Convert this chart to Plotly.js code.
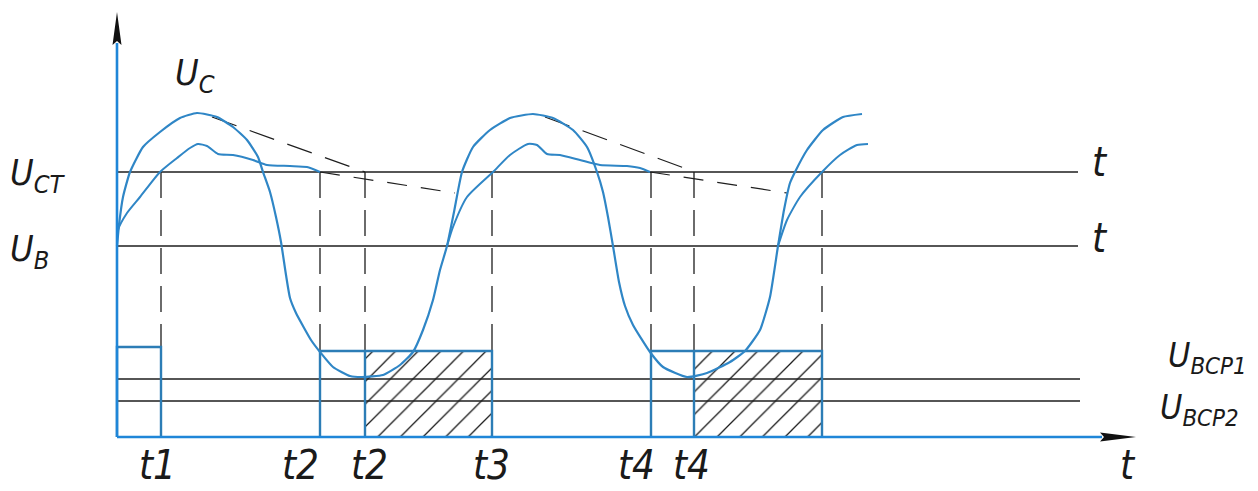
<!DOCTYPE html>
<html>
<head>
<meta charset="utf-8">
<script src="https://cdn.plot.ly/plotly-3.0.1.min.js"></script>
<style>html,body{margin:0;padding:0;background:#fff;}#chart{width:1258px;height:491px;}</style>
</head>
<body>
<div id="chart"></div>
<script>
// ---- data (drawing units: t along time axis, U along voltage axis) ----
const outerT = [117,119,123,130,143,160,180,197,217,233,247,258,263,270,276,281,286,290,296,303,311,320,333,350,362,383,400,413,423,433,440,447,454,462,473,490,510,533,553,573,587,597,603,608,613,619,625,633,650,663,687,707,730,745,760,770,778,784,790,795,807,823,843,862];
const outerU = [191,212,240,265,290,305,319,324,320,310,297,280,265,245,220,195,162,139,124,111,97,85,70,61,60,62,72,85,107,137,167,191,225,265,290,307,319,323,319,307,290,265,245,220,191,155,131,112,85,70,60,64,75,86,107,140,191,227,254,265,287,307,320,323];

const inner1T = [117,118,127,140,160,177,190,198,207,218,233,253,267,290,307,320];
const inner1U = [191,207,224,240,265,279,289,293,291,283,282,277,272,271,270,265];
const inner2T = [447,453,467,493,510,528,537,547,560,580,600,627,640,650];
const inner2U = [191,210,240,265,282,293,292,283,282,277,272,271,269,265];
const inner3T = [778,787,800,822,840,857,868];
const inner3U = [191,217,240,265,282,292,293];

const envUpperT = [212,365,null,545,695];
const envUpperU = [320,265,null,320,265];
const envLowerT = [320,455,null,650,787];
const envLowerU = [265,244,null,265,244];

const U_CT = 265, U_B = 191, U_BCP1 = 58, U_BCP2 = 36;
const tOrigin = 117, tLevelEnd = 1078, tBcpEnd = 1080, tAxisEnd = 1136, uAxisEnd = 425;

const pulseStart = [117, 320, 651];
const pulseSplit = [null, 365, 694];
const pulseEnd = [161, 492, 822];
const pulseHeight = [90, 86, 86];

const markT = [161, 320, 365, 492, 651, 694, 822];
const markBottom = [90, 86, 86, 86, 86, 86, 86];

const tickLabels = ['t1','t2','t2','t3','t4','t4'];
const tickLabelT = [157, 300, 369, 491, 636, 691];

// ---- styling ----
const BLUE_AX = '#1f86d8';
const BLUE_C = '#2f86c6';
const BLUE_P = '#2c7db6';
const BLACK = '#1e1e1e';
const FONT = 'DejaVu Sans Condensed, Liberation Sans Narrow, Roboto, sans-serif';

const traces = [];

// hatched part of pulses
const hx = [], hw = [], hy = [];
for (let i = 0; i < pulseStart.length; i++) {
  if (pulseSplit[i] !== null) {
    hx.push((pulseSplit[i] + pulseEnd[i]) / 2);
    hw.push(pulseEnd[i] - pulseSplit[i]);
    hy.push(pulseHeight[i]);
  }
}
traces.push({
  type: 'bar', x: hx, y: hy, width: hw, base: 0,
  marker: {color: 'rgba(0,0,0,0)', line: {width: 0},
           pattern: {shape: '/', size: 16, solidity: 0.08, fgcolor: '#1a1a1a', bgcolor: 'rgba(0,0,0,0)', fillmode: 'replace'}},
  hoverinfo: 'skip'
});

// level lines
traces.push({
  type: 'scatter', mode: 'lines',
  x: [tOrigin, tLevelEnd, null, tOrigin, tLevelEnd, null, tOrigin, tBcpEnd, null, tOrigin, tBcpEnd],
  y: [U_CT, U_CT, null, U_B, U_B, null, U_BCP1, U_BCP1, null, U_BCP2, U_BCP2],
  line: {color: BLACK, width: 1.3}, connectgaps: false
});

// vertical dashed marker lines
const vx = [], vy = [];
markT.forEach((t, i) => { vx.push(t, t, null); vy.push(U_CT, markBottom[i], null); });
traces.push({type: 'scatter', mode: 'lines', x: vx, y: vy,
  line: {color: BLACK, width: 1.3, dash: '26px,12px'}, connectgaps: false});

// envelope dashed lines
traces.push({type: 'scatter', mode: 'lines', x: envUpperT, y: envUpperU,
  line: {color: BLACK, width: 1.2, dash: '26px,14px'}, connectgaps: false});
traces.push({type: 'scatter', mode: 'lines', x: envLowerT, y: envLowerU,
  line: {color: BLACK, width: 1.2, dash: '20px,14px'}, connectgaps: false});

// pulses outlines
for (let i = 0; i < pulseStart.length; i++) {
  const xs = [pulseStart[i], pulseStart[i], pulseEnd[i], pulseEnd[i]];
  const ys = [0, pulseHeight[i], pulseHeight[i], 0];
  traces.push({type: 'scatter', mode: 'lines', x: xs, y: ys, line: {color: BLUE_P, width: 2.4}});
  if (pulseSplit[i] !== null) {
    traces.push({type: 'scatter', mode: 'lines', x: [pulseSplit[i], pulseSplit[i]], y: [0, pulseHeight[i]],
      line: {color: BLUE_P, width: 2.4}});
  }
}

// curves
traces.push({type: 'scatter', mode: 'lines', x: outerT, y: outerU,
  line: {color: BLUE_C, width: 2.2, shape: 'spline', smoothing: 0.5}});
[[inner1T, inner1U], [inner2T, inner2U], [inner3T, inner3U]].forEach(([tx, uy]) => {
  traces.push({type: 'scatter', mode: 'lines', x: tx, y: uy,
    line: {color: BLUE_C, width: 2.0, shape: 'spline', smoothing: 0.6}});
});

// axes lines (blue)
traces.push({type: 'scatter', mode: 'lines', x: [tOrigin, tOrigin, null, tOrigin, 1102], y: [394, 0, null, 0, 0],
  line: {color: BLUE_AX, width: 2.6}, connectgaps: false});

const shapes = [
  {type: 'path', xref: 'x', yref: 'y', fillcolor: '#111', line: {width: 0},
   path: `M ${tOrigin},${uAxisEnd} L ${tOrigin - 4.5},${392} L ${tOrigin},${396} L ${tOrigin + 4.5},${392} Z`},
  {type: 'path', xref: 'x', yref: 'y', fillcolor: '#111', line: {width: 0},
   path: `M ${tAxisEnd},0 L 1100,4.5 L 1104,0 L 1100,-4.5 Z`}
];

const lab = (x, y, text, size, xanchor) => ({
  x: x, y: y, xref: 'x', yref: 'y', text: text, showarrow: false,
  xanchor: xanchor || 'center', yanchor: 'middle',
  font: {family: FONT, size: size, color: '#1a1a1a', style: 'italic', weight: 300}
});

const annotations = [
  lab(173, 362, 'U<sub>C</sub>', 36, 'left'),
  lab(8, 262, 'U<sub>CT</sub>', 36, 'left'),
  lab(8, 186, 'U<sub>B</sub>', 36, 'left'),
  lab(1100, 275, 't', 40),
  lab(1100, 199, 't', 40),
  lab(1166, 80, 'U<sub>BCP1</sub>', 34, 'left'),
  lab(1158, 28, 'U<sub>BCP2</sub>', 34, 'left'),
  lab(1128, -28, 't', 40)
];
tickLabels.forEach((s, i) => annotations.push(lab(tickLabelT[i], -28, s, 40)));

const layout = {
  width: 1258, height: 491,
  margin: {l: 0, r: 0, t: 0, b: 0},
  paper_bgcolor: '#fff', plot_bgcolor: '#fff',
  showlegend: false,
  xaxis: {range: [0, 1258], visible: false, fixedrange: true},
  yaxis: {range: [-54, 437], visible: false, fixedrange: true},
  shapes: shapes, annotations: annotations
};

Plotly.newPlot('chart', traces, layout, {staticPlot: true, displayModeBar: false});
</script>
</body>
</html>
